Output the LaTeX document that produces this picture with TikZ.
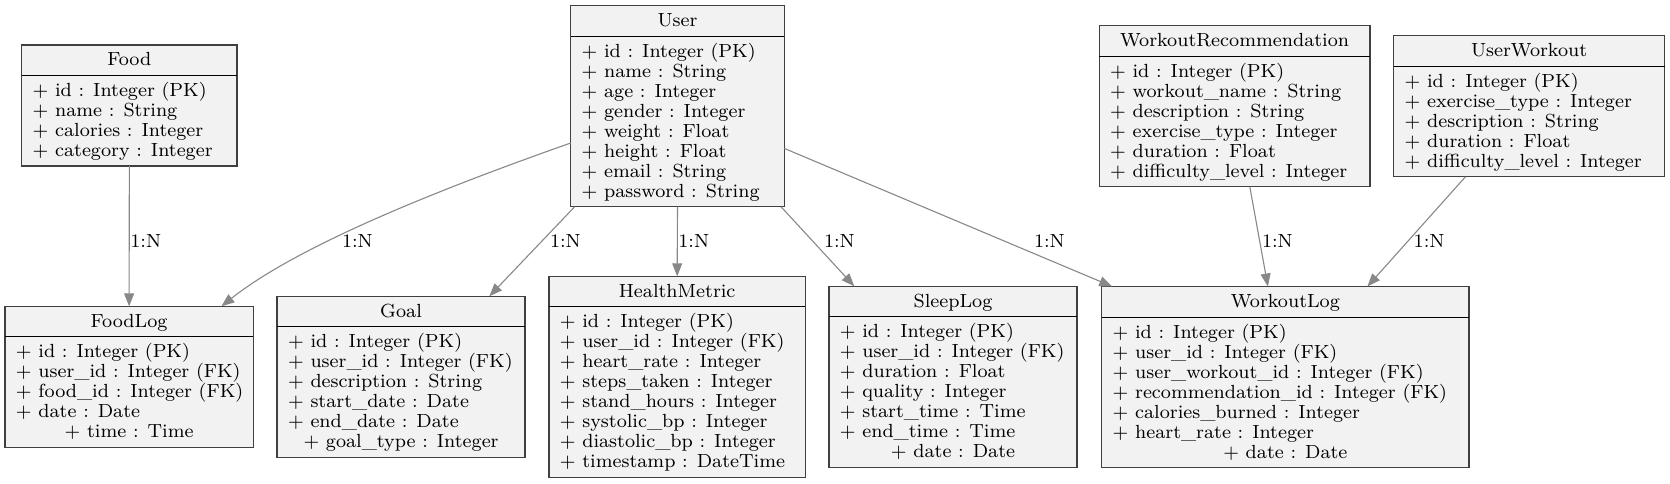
\documentclass[tikz,border=0pt]{standalone}
\usepackage{fontspec}
\newfontfamily\erfont{lmroman8-regular.otf}
\usetikzlibrary{calc,arrows.meta}
\definecolor{boxfill}{HTML}{F2F2F2}
\definecolor{boxline}{HTML}{404040}
\definecolor{edgec}{HTML}{888888}
\tikzset{
  tbl/.style={draw=boxline, fill=boxfill, line width=1.4pt, inner sep=0pt, outer sep=0pt},
  divline/.style={draw=black, line width=1pt},
  ertext/.style={inner sep=0pt, outer sep=0pt, font=\erfont\fontsize{19}{20}\selectfont},
  rel/.style={draw=edgec, line width=1.1pt, -{Triangle[length=13pt,width=10pt]}},
  card/.style={ertext, anchor=base west},
}
% #1 name, #2 x, #3 y, #4 width, #5 number of lines, #6 title, #7 left lines, #8 centred last line
\newcommand{\erbox}[8]{%
  \pgfmathsetmacro\erh{41+20*#5}%
  \node[tbl, minimum width=#4pt, minimum height=\erh pt, anchor=north west] (#1) at (#2,#3) {};
  \draw[divline] ($(#1.north west)+(0,30.6)$) -- ($(#1.north east)+(0,30.6)$);
  \node[ertext, anchor=base] (#1-t) at ($(#1.north)+(0,21)$) {#6};
  \foreach \erl [count=\eri] in {#7} {
    \node[ertext, anchor=base west] (#1-\eri) at ($(#1.north west)+(11,31.6+20*\eri)$) {\erl};
  }
  \if\relax\detokenize{#8}\relax\else
    \pgfmathsetmacro\erb{31.6+20*#5}%
    \node[ertext, anchor=base] (#1-last) at ($(#1.north)+(0,\erb)$) {#8};
  \fi
}
\begin{document}
\begin{tikzpicture}[x=1pt,y=-1pt]
\useasboundingbox (0,0) rectangle (1670,484);

\erbox{food}{21.7}{45}{215.3}{4}{Food}{+ id : Integer (PK), + name : String, + calories : Integer, + category : Integer}{}
\erbox{foodlog}{5}{306.3}{248.2}{5}{FoodLog}{+ id : Integer (PK), + user\_id : Integer (FK), + food\_id : Integer (FK), + date : Date}{+ time : Time}
\erbox{goal}{277.1}{296.3}{247.9}{6}{Goal}{+ id : Integer (PK), + user\_id : Integer (FK), + description : String, + start\_date : Date, + end\_date : Date}{+ goal\_type : Integer}
\erbox{user}{570.7}{5.7}{213.6}{8}{User}{+ id : Integer (PK), + name : String, + age : Integer, + gender : Integer, + weight : Float, + height : Float, + email : String, + password : String}{}
\erbox{health}{548.9}{276.3}{256.5}{8}{HealthMetric}{+ id : Integer (PK), + user\_id : Integer (FK), + heart\_rate : Integer, + steps\_taken : Integer, + stand\_hours : Integer, + systolic\_bp : Integer, + diastolic\_bp : Integer, + timestamp : DateTime}{}
\erbox{sleep}{828.9}{286.3}{248.2}{7}{SleepLog}{+ id : Integer (PK), + user\_id : Integer (FK), + duration : Float, + quality : Integer, + start\_time : Time, + end\_time : Time}{+ date : Date}
\erbox{wrec}{1099.2}{25.7}{270.8}{6}{WorkoutRecommendation}{+ id : Integer (PK), + workout\_name : String, + description : String, + exercise\_type : Integer, + duration : Float, + difficulty\_level : Integer}{}
\erbox{uwork}{1393.7}{35.7}{270.8}{5}{UserWorkout}{+ id : Integer (PK), + exercise\_type : Integer, + description : String, + duration : Float, + difficulty\_level : Integer}{}
\erbox{wlog}{1101.7}{286.5}{367.3}{7}{WorkoutLog}{+ id : Integer (PK), + user\_id : Integer (FK), + user\_workout\_id : Integer (FK), + recommendation\_id : Integer (FK), + calories\_burned : Integer, + heart\_rate : Integer}{+ date : Date}

% connectors
\draw[rel] (food.south) -- (foodlog.north);
\draw[rel] ($(user.south west)+(0,-63.7)$) .. controls (450,185.6) and (301.4,243) .. ($(foodlog.north east)+(-31.8,0)$);
\draw[rel] ($(user.south west)+(4,0)$) -- ($(goal.north east)+(-35.7,0)$);
\draw[rel] (user.south) -- (health.north);
\draw[rel] ($(user.south east)+(-3.3,0)$) -- ($(sleep.north west)+(25.4,0)$);
\draw[rel] ($(user.south east)+(0,-58.3)$) -- ($(wlog.north west)+(10.5,0)$);
\draw[rel] ($(wrec.south west)+(150.6,0)$) -- ($(wlog.north west)+(166.2,0)$);
\draw[rel] ($(uwork.south west)+(71.8,0)$) -- ($(wlog.north west)+(265.7,0)$);

% cardinality labels
\node[card] (l1) at (130.4,247.3) {1:N};
\node[card] (l2) at (342,247.3) {1:N};
\node[card] (l3) at (550,247.3) {1:N};
\node[card] (l4) at (678.3,247.3) {1:N};
\node[card] (l5) at (824,247.3) {1:N};
\node[card] (l6) at (1034,247.3) {1:N};
\node[card] (l7) at (1262,247.3) {1:N};
\node[card] (l8) at (1413.7,247.3) {1:N};
\end{tikzpicture}
\end{document}
